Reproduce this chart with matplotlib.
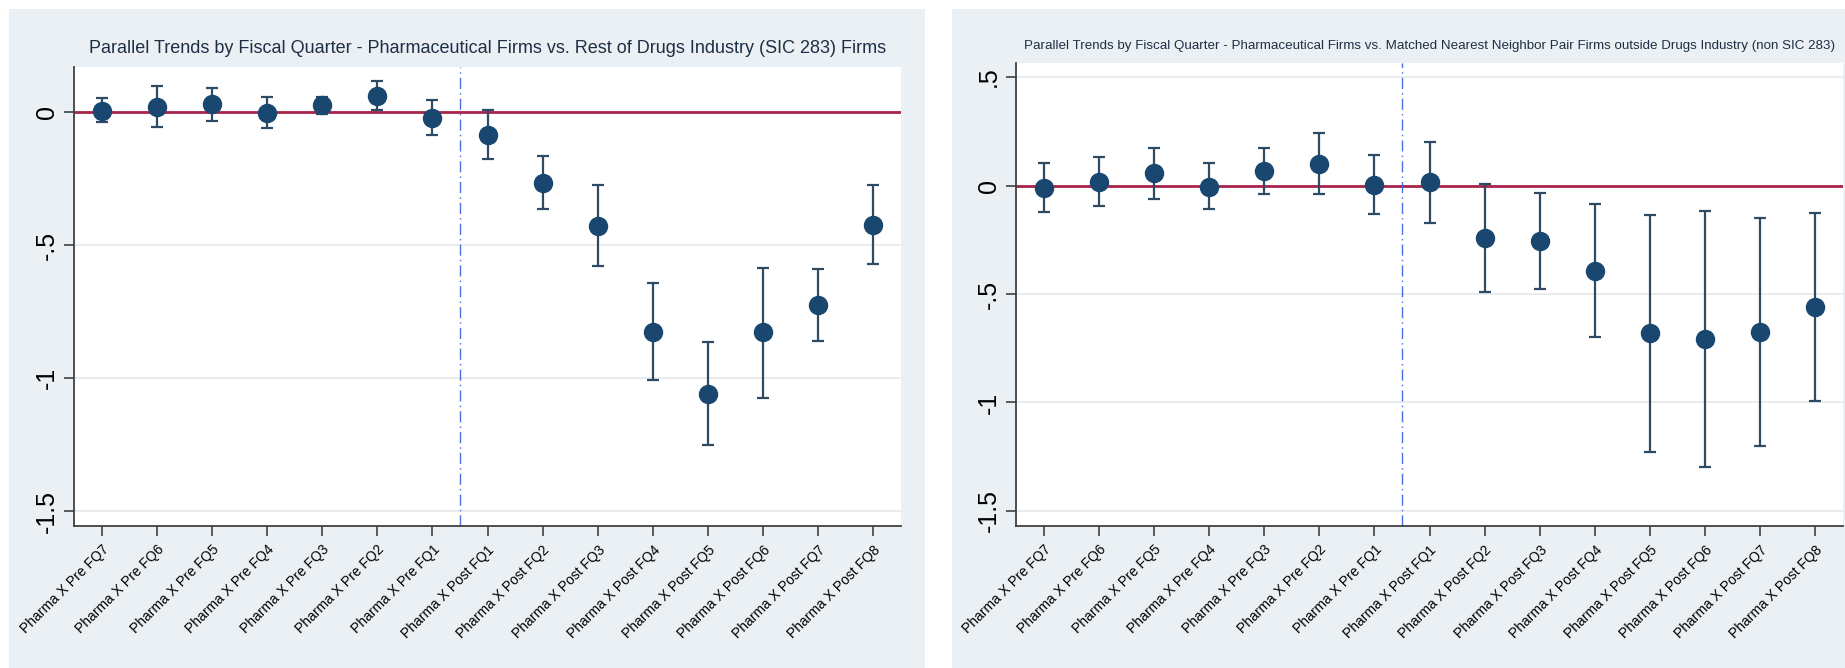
import matplotlib.pyplot as plt
from matplotlib.patches import Rectangle

plt.rcParams["font.family"] = ["Liberation Sans", "DejaVu Sans"]

# tick labels shared by both panels
labels = [f"Pharma X Pre FQ{i}" for i in range(7, 0, -1)] + \
         [f"Pharma X Post FQ{i}" for i in range(1, 9)]

# left panel: vs rest of drugs industry
left_est = [0.005, 0.019, 0.030, -0.005, 0.026, 0.059, -0.021,
            -0.086, -0.267, -0.428, -0.827, -1.059, -0.828, -0.726, -0.423]
left_hi = [0.053, 0.096, 0.091, 0.058, 0.058, 0.115, 0.046,
           0.008, -0.167, -0.276, -0.644, -0.863, -0.585, -0.591, -0.276]
left_lo = [-0.038, -0.058, -0.034, -0.062, -0.008, 0.006, -0.085,
           -0.176, -0.365, -0.578, -1.009, -1.253, -1.075, -0.860, -0.570]

# right panel: vs matched nearest neighbour firms
right_est = [-0.010, 0.018, 0.057, -0.006, 0.067, 0.100, 0.004,
             0.014, -0.242, -0.255, -0.393, -0.681, -0.709, -0.675, -0.560]
right_hi = [0.102, 0.132, 0.175, 0.102, 0.173, 0.242, 0.141,
            0.202, 0.006, -0.035, -0.086, -0.134, -0.118, -0.151, -0.128]
right_lo = [-0.122, -0.094, -0.061, -0.110, -0.037, -0.041, -0.130,
            -0.171, -0.491, -0.475, -0.697, -1.231, -1.298, -1.202, -0.992]

left_title = ("Parallel Trends by Fiscal Quarter - Pharmaceutical Firms vs. "
              "Rest of Drugs Industry (SIC 283) Firms")
right_title = ("Parallel Trends by Fiscal Quarter - Pharmaceutical Firms vs. "
               "Matched Nearest Neighbor Pair Firms outside Drugs Industry (non SIC 283)")

W, H = 1845, 668
bg = "#EAF0F3"
navy = "#1A476F"
bar_col = "#2F4A63"
red = "#A8244A"

fig = plt.figure(figsize=(W / 100, H / 100), dpi=100)
fig.patch.set_facecolor("white")

# grey panel backgrounds (pixel boxes converted to figure fraction)
for x0, x1 in [(9, 925), (952, 1845)]:
    fig.add_artist(Rectangle((x0 / W, 0), (x1 - x0) / W, (H - 9) / H,
                             transform=fig.transFigure, facecolor=bg,
                             edgecolor="none", zorder=-10))


def panel(rect, est, lo, hi, ylim, yticks, yticklabels, title, title_size):
    l, t, r, b = rect
    ax = fig.add_axes([l / W, 1 - b / H, (r - l) / W, (b - t) / H])
    ax.set_facecolor("white")
    x = list(range(1, len(est) + 1))
    err = [[e - lo_ for e, lo_ in zip(est, lo)], [hi_ - e for e, hi_ in zip(est, hi)]]
    for yt in yticks:
        ax.axhline(yt, color="#E6E8EA", lw=1.2, zorder=1)
    ax.axhline(0, color=red, lw=2, zorder=2)
    ax.axvline(7.5, color="#4A6FE3", lw=1, ls=(0, (8, 3, 1, 3)), zorder=2)
    ax.errorbar(x, est, yerr=err, fmt="none", ecolor=bar_col, elinewidth=1.6,
                capsize=4.5, capthick=1.6, zorder=3)
    ax.plot(x, est, "o", color=navy, ms=13, zorder=4)
    ax.set_xlim(0.5, 15.5)
    ax.set_ylim(*ylim)
    ax.set_yticks(yticks)
    ax.set_yticklabels(yticklabels, rotation=90, va="center", fontsize=18)
    ax.set_xticks(x)
    ax.set_xticklabels(labels, rotation=45, ha="right", rotation_mode="anchor",
                       fontsize=10)
    ax.tick_params(axis="both", direction="out", length=7, width=1.2,
                   color="#404040")
    ax.tick_params(axis="x", pad=5)
    ax.tick_params(axis="y", pad=4)
    for s in ["top", "right"]:
        ax.spines[s].set_visible(False)
    for s in ["left", "bottom"]:
        ax.spines[s].set_color("#404040")
        ax.spines[s].set_linewidth(1.3)
    ax.set_title(title, fontsize=title_size, color="#1E2F45", pad=10)
    return ax


panel((74, 67, 901, 526), left_est, left_lo, left_hi, (-1.556, 0.169),
      [0, -0.5, -1, -1.5], ["0", "-.5", "-1", "-1.5"], left_title, 13)
panel((1016, 63, 1843, 526), right_est, right_lo, right_hi, (-1.57, 0.565),
      [0.5, 0, -0.5, -1, -1.5], [".5", "0", "-.5", "-1", "-1.5"], right_title, 9.6)

fig.savefig("out.png", dpi=100)
